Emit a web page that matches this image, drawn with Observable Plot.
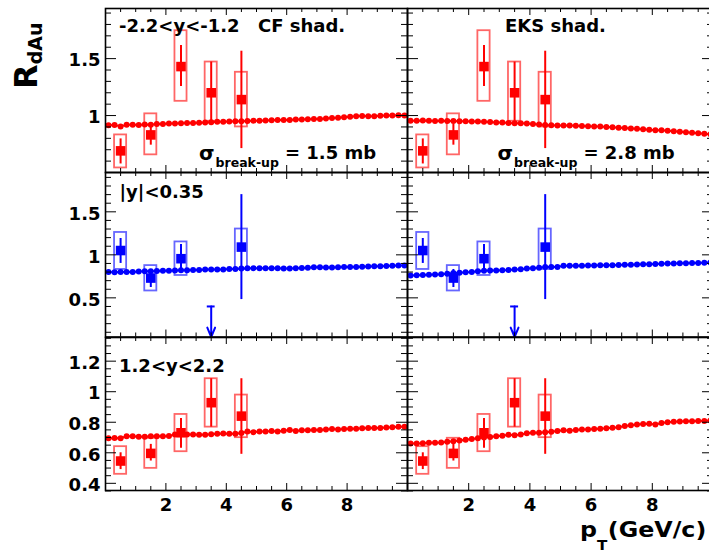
<!DOCTYPE html>
<html><head><meta charset="utf-8">
<script src="https://cdn.jsdelivr.net/npm/d3@7"></script>
<script src="https://cdn.jsdelivr.net/npm/@observablehq/plot@0.6"></script>
<style>
body{margin:0;background:#fff;}
#chart{position:relative;width:709px;height:555px;overflow:hidden;background:#fff;}
#chart svg{position:absolute;}
</style></head><body><div id="chart"></div>
<script>
// ---------- data ----------
const curveX = [0.1,0.3,0.5,0.7,0.9,1.1,1.3,1.5,1.7,1.9,2.1,2.3,2.5,2.7,2.9,3.1,3.3,3.5,3.7,3.9,
  4.1,4.3,4.5,4.7,4.9,5.1,5.3,5.5,5.7,5.9,6.1,6.3,6.5,6.7,6.9,7.1,7.3,7.5,7.7,7.9,
  8.1,8.3,8.5,8.7,8.9,9.1,9.3,9.5,9.7,9.9];

// model curves: CF shadowing (left) and EKS shadowing (right)
const cfBackward = [0.915,0.918,0.905,0.92,0.92,0.918,0.922,0.92,0.925,0.925,
  0.93,0.93,0.932,0.935,0.935,0.937,0.94,0.942,0.945,0.945,
  0.948,0.95,0.95,0.953,0.955,0.955,0.957,0.958,0.96,0.96,
  0.962,0.965,0.965,0.967,0.97,0.97,0.975,0.978,0.98,0.985,
  0.99,0.995,0.997,0.995,0.995,0.998,1.0,1.0,1.002,1.0];
const eksBackward = [0.955,0.955,0.957,0.955,0.953,0.955,0.952,0.952,0.95,0.95,
  0.948,0.947,0.945,0.943,0.94,0.938,0.935,0.933,0.932,0.93,
  0.925,0.922,0.918,0.915,0.913,0.912,0.912,0.91,0.908,0.906,
  0.905,0.903,0.9,0.897,0.893,0.89,0.887,0.884,0.88,0.876,
  0.872,0.87,0.866,0.862,0.858,0.853,0.849,0.845,0.84,0.835];
const cfMid = [0.8,0.798,0.8,0.8,0.8,0.805,0.81,0.81,0.812,0.815,
  0.815,0.818,0.82,0.822,0.825,0.825,0.83,0.83,0.83,0.83,
  0.835,0.835,0.84,0.845,0.845,0.843,0.843,0.845,0.845,0.842,
  0.84,0.845,0.848,0.85,0.855,0.855,0.853,0.853,0.855,0.858,
  0.86,0.858,0.862,0.865,0.868,0.868,0.87,0.872,0.875,0.876];
const eksMid = [0.76,0.762,0.765,0.768,0.772,0.775,0.78,0.788,0.792,0.797,
  0.8,0.808,0.815,0.817,0.818,0.822,0.825,0.83,0.833,0.84,
  0.845,0.85,0.86,0.858,0.86,0.872,0.872,0.873,0.872,0.875,
  0.876,0.878,0.88,0.88,0.882,0.885,0.886,0.888,0.89,0.892,
  0.894,0.897,0.9,0.9,0.902,0.903,0.905,0.906,0.908,0.91];
const cfForward = [0.695,0.697,0.695,0.708,0.708,0.705,0.705,0.708,0.708,0.708,
  0.71,0.72,0.725,0.72,0.72,0.718,0.718,0.722,0.725,0.727,
  0.725,0.725,0.73,0.74,0.735,0.74,0.74,0.742,0.74,0.745,
  0.75,0.742,0.748,0.748,0.75,0.75,0.752,0.755,0.752,0.755,
  0.757,0.757,0.76,0.762,0.762,0.762,0.765,0.768,0.77,0.77];
const eksForward = [0.66,0.66,0.662,0.665,0.665,0.668,0.672,0.675,0.68,0.685,
  0.69,0.695,0.7,0.703,0.708,0.712,0.718,0.715,0.72,0.728,
  0.731,0.732,0.735,0.738,0.742,0.747,0.745,0.75,0.753,0.752,
  0.755,0.758,0.76,0.764,0.768,0.775,0.78,0.785,0.788,0.79,
  0.785,0.795,0.8,0.803,0.805,0.806,0.806,0.808,0.808,0.812];

// measured points
const bwdPt = [0.5,1.5,2.5,3.5,4.5];
const bwdVal = [0.69,0.83,1.43,1.20,1.14];
const bwdStatLo = [0.575,0.74,1.255,0.95,0.71];
const bwdStatHi = [0.795,0.925,1.615,1.47,1.565];
const bwdSysLo = [0.54,0.655,1.125,0.95,0.90];
const bwdSysHi = [0.83,1.015,1.745,1.47,1.38];

const midPt = [0.5,1.5,2.5,4.5];
const midVal = [1.05,0.73,0.955,1.09];
const midStatLo = [0.90,0.62,0.83,0.48];
const midStatHi = [1.19,0.83,1.12,1.70];
const midSysLo = [0.83,0.58,0.76,0.83];
const midSysHi = [1.26,0.875,1.15,1.30];
const midLimitX = [3.5];
const midLimitVal = [0.4];

const fwdPt = [0.5,1.5,2.5,3.5,4.5];
const fwdVal = [0.546,0.596,0.731,0.928,0.84];
const fwdStatLo = [0.49,0.546,0.629,0.768,0.59];
const fwdStatHi = [0.60,0.655,0.825,1.085,1.085];
const fwdSysLo = [0.459,0.498,0.607,0.768,0.699];
const fwdSysHi = [0.64,0.695,0.851,1.085,0.978];

// tick values
const xMajor = [2,4,6,8];
const xMinor = [0.5,1,1.5,2.5,3,3.5,4.5,5,5.5,6.5,7,7.5,8.5,9,9.5];
const yMajorTop = [1,1.5];
const yMinorTop = [0.6,0.7,0.8,0.9,1.1,1.2,1.3,1.4,1.6,1.7,1.8,1.9];
const yMajorMid = [0.5,1,1.5];
const yMinorMid = [0.1,0.2,0.3,0.4,0.6,0.7,0.8,0.9,1.1,1.2,1.3,1.4,1.6,1.7,1.8,1.9];
const yMajorBot = [0.4,0.6,0.8,1,1.2];
const yMinorBot = [0.35,0.45,0.5,0.55,0.65,0.7,0.75,0.85,0.9,0.95,1.05,1.1,1.15,1.25,1.3,1.35];

// ---------- build ----------
const RED = "#ff0000", BLUE = "#0000ff";
const BOX = 0.2;
const FONT = "'DejaVu Sans', sans-serif";
function pts(xs, v, sl, sh, yl, yh) {
  return xs.map((x,i)=>({x, val:v[i], statLo:sl[i], statHi:sh[i], sysLo:yl[i], sysHi:yh[i]}));
}
const bwdPoints = pts(bwdPt,bwdVal,bwdStatLo,bwdStatHi,bwdSysLo,bwdSysHi);
const midPoints = pts(midPt,midVal,midStatLo,midStatHi,midSysLo,midSysHi);
const fwdPoints = pts(fwdPt,fwdVal,fwdStatLo,fwdStatHi,fwdSysLo,fwdSysHi);

const rows = [
  {y0:8, h:164, domain:[0.5,1.94], major:yMajorTop, minor:yMinorTop, color:RED, points:bwdPoints, curves:[cfBackward, eksBackward]},
  {y0:172, h:164.5, domain:[0.045,1.957], major:yMajorMid, minor:yMinorMid, color:BLUE, points:midPoints, curves:[cfMid, eksMid], limit:true},
  {y0:336.5, h:153, domain:[0.353,1.355], major:yMajorBot, minor:yMinorBot, color:RED, points:fwdPoints, curves:[cfForward, eksForward], xLabels:true}
];
const cols = [{x0:105, w:302, yLabels:true}, {x0:407, w:306, yLabels:false}];

const chart = document.getElementById("chart");

rows.forEach((r, ri) => cols.forEach((c, ci) => {
  const mL = c.yLabels ? 60 : 3, mR = 3, mT = 3, mB = r.xLabels ? 32 : 3;
  const W = c.w, H = r.h;
  const curveData = curveX.map((x,i)=>({x, y:r.curves[ci][i]}));
  const marks = [
    Plot.line(curveData, {x:"x", y:"y", stroke:r.color, strokeWidth:2}),
    Plot.dot(curveData, {x:"x", y:"y", fill:r.color, stroke:"none", r:3}),
    Plot.rect(r.points, {x1:d=>d.x-BOX, x2:d=>d.x+BOX, y1:"sysLo", y2:"sysHi", fill:"none", stroke:r.color, strokeOpacity:0.6, strokeWidth:1.8}),
    Plot.ruleX(r.points, {x:"x", y1:"statLo", y2:"statHi", stroke:r.color, strokeWidth:2}),
    Plot.dot(r.points, {x:"x", y:"val", symbol:"square", r:5.4, fill:r.color, stroke:"none"})
  ];
  if (r.limit) {
    const lim = midLimitX.map((x,i)=>({x, v:midLimitVal[i], lo:r.domain[0]}));
    marks.push(
      Plot.ruleY(lim, {y:"v", x1:d=>d.x-0.13, x2:d=>d.x+0.13, stroke:r.color, strokeWidth:2}),
      Plot.arrow(lim, {x1:"x", y1:"v", x2:"x", y2:"lo", stroke:r.color, strokeWidth:2, headLength:10, headAngle:45})
    );
  }
  marks.push(
    Plot.tickY(r.major, {y:d=>d, insetRight:W-11, stroke:"black", strokeWidth:1}),
    Plot.tickY(r.major, {y:d=>d, insetLeft:W-11, stroke:"black", strokeWidth:1}),
    Plot.tickY(r.minor, {y:d=>d, insetRight:W-6, stroke:"black", strokeWidth:1}),
    Plot.tickY(r.minor, {y:d=>d, insetLeft:W-6, stroke:"black", strokeWidth:1}),
    Plot.tickX(xMajor, {x:d=>d, insetTop:H-7, stroke:"black", strokeWidth:1}),
    Plot.tickX(xMajor, {x:d=>d, insetBottom:H-7, stroke:"black", strokeWidth:1}),
    Plot.tickX(xMinor, {x:d=>d, insetTop:H-4, stroke:"black", strokeWidth:1}),
    Plot.tickX(xMinor, {x:d=>d, insetBottom:H-4, stroke:"black", strokeWidth:1}),
    Plot.frame({stroke:"black", strokeWidth:1.6})
  );
  if (c.yLabels) marks.push(Plot.text(r.major, {y:d=>d, text:d=>String(d), frameAnchor:"left", textAnchor:"end", dx:-5, dy:2,
    fontSize:18, fontWeight:"bold", fontFamily:FONT, fill:"black"}));
  if (r.xLabels) marks.push(Plot.text(xMajor, {x:d=>d, text:d=>String(d), frameAnchor:"bottom", lineAnchor:"top", dy:8,
    fontSize:18, fontWeight:"bold", fontFamily:FONT, fill:"black"}));
  const svg = Plot.plot({
    width: mL+W+mR, height: mT+H+mB,
    marginLeft:mL, marginRight:mR, marginTop:mT, marginBottom:mB,
    x:{domain:[0,10], axis:null, label:null},
    y:{domain:r.domain, axis:null, label:null},
    style:{background:"transparent", overflow:"visible", fontFamily:FONT, fontWeight:"bold", fontSize:"18px", color:"black"},
    marks
  });
  svg.style.left = (c.x0 - mL) + "px";
  svg.style.top = (r.y0 - mT) + "px";
  chart.appendChild(svg);
}));

// ---------- text annotations ----------
const ov = d3.select(chart).append("svg")
  .attr("width",709).attr("height",555)
  .style("left","0px").style("top","0px")
  .attr("font-family",FONT).attr("font-weight","bold").attr("fill","black");

function t(x,y,s,size){ return ov.append("text").attr("x",x).attr("y",y).attr("font-size",size).text(s); }

const rt = ov.append("text").attr("transform","translate(36.7,89) rotate(-90)").attr("font-size",32);
rt.append("tspan").text("R");
rt.append("tspan").attr("font-size",19).attr("dy",5.5).text("dAu");

t(119,31.7,"-2.2<y<-1.2",18);
t(258,31.7,"CF shad.",18);
t(505,31.7,"EKS shad.",18);
t(119.5,197.7,"|y|<0.35",18);
t(119,371.5,"1.2<y<2.2",18);

function sigma(x, value) {
  const s = ov.append("text").attr("x",x).attr("y",159.5).attr("font-size",20);
  s.append("tspan").text("σ");
  s.append("tspan").attr("font-size",12.5).attr("dy",7).attr("dx",1).text("break-up");
  s.append("tspan").attr("font-size",18).attr("dy",-7.7).attr("dx",6).text("= " + value + " mb");
}
sigma(199, "1.5");
sigma(497.5, "2.8");

const pt = ov.append("text").attr("transform","translate(580,536.5) scale(1.08,1)").attr("font-size",22);
pt.append("tspan").text("p");
pt.append("tspan").attr("font-size",14).attr("dy",13.5).text("T");
pt.append("tspan").attr("font-size",22).attr("dx",0.5).attr("dy",-13.5).text("(GeV/c)");
</script>
</body></html>
